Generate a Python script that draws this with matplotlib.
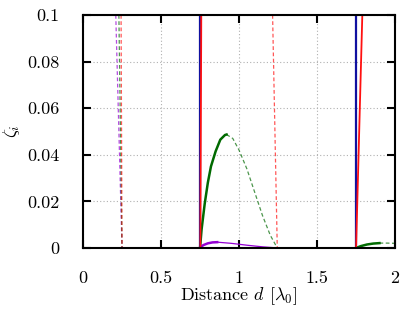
import matplotlib
matplotlib.use("Agg")
import matplotlib.pyplot as plt

plt.rcParams['font.family'] = 'serif'
plt.rcParams['font.serif'] = ['cmr10', 'DejaVu Serif']
plt.rcParams['mathtext.fontset'] = 'cm'
plt.rcParams['axes.formatter.use_mathtext'] = True

# blue: vertical solid lines
blue1_d = [0.748, 0.748]; blue1_z = [0.0, 0.1]
blue2_d = [1.75, 1.75]; blue2_z = [0.0, 0.1]

# red solid, steep
red1_d = [0.752, 0.758]; red1_z = [0.0, 0.1]
red2_d = [1.75, 1.79]; red2_z = [0.0, 0.1]

# red dashed
red3_d = [0.244, 0.25]; red3_z = [0.1, 0.0]
red4_d = [1.215, 1.245]; red4_z = [0.1, 0.0]

# green
green1_d = [0.75, 0.76, 0.78, 0.80, 0.82, 0.85, 0.88, 0.91, 0.92]
green1_z = [0.0, 0.008, 0.019, 0.028, 0.035, 0.0415, 0.0465, 0.0485, 0.0487]
green2_d = [0.92, 0.96, 1.0, 1.05, 1.10, 1.15, 1.20, 1.245]
green2_z = [0.0487, 0.047, 0.042, 0.034, 0.024, 0.014, 0.0055, 0.0]
green3_d = [0.23, 0.25]; green3_z = [0.1, 0.0]
green4_d = [1.75, 1.78, 1.82, 1.86, 1.90]
green4_z = [0.0, 0.0008, 0.0015, 0.0019, 0.0021]
green5_d = [1.90, 1.95, 2.0]
green5_z = [0.0021, 0.0021, 0.002]

# purple
purple1_d = [0.75, 0.77, 0.80, 0.83, 0.86]
purple1_z = [0.0, 0.0012, 0.0020, 0.0024, 0.0025]
purple2_d = [0.86, 0.95, 1.05, 1.15, 1.25]
purple2_z = [0.0025, 0.0020, 0.0012, 0.0005, 0.0]
purple3_d = [0.21, 0.25]; purple3_z = [0.1, 0.0]

c_blue = '#1010a0'
c_red = '#ff1010'
c_green = '#006a00'
c_purple = '#9400d3'
dash = (0, (3, 2))

fig = plt.figure(figsize=(4.15, 3.11), dpi=100)
ax = fig.add_axes([0.2, 0.2026, 0.752, 0.7492])

ax.plot(purple3_d, purple3_z, color=c_purple, lw=0.9, ls=dash, alpha=0.7)
ax.plot(green3_d, green3_z, color=c_green, lw=0.9, ls=dash, alpha=0.7)
ax.plot(red3_d, red3_z, color=c_red, lw=0.9, ls=dash, alpha=0.7)
ax.plot(red4_d, red4_z, color=c_red, lw=0.9, ls=dash, alpha=0.7)

ax.plot(green1_d, green1_z, color=c_green, lw=1.8)
ax.plot(green2_d, green2_z, color=c_green, lw=0.9, ls=dash, alpha=0.7)
ax.plot(green4_d, green4_z, color=c_green, lw=1.8)
ax.plot(green5_d, green5_z, color=c_green, lw=0.9, ls=dash, alpha=0.7)

ax.plot(purple1_d, purple1_z, color=c_purple, lw=1.8)
ax.plot(purple2_d, purple2_z, color=c_purple, lw=0.9)

ax.plot(blue1_d, blue1_z, color=c_blue, lw=1.6)
ax.plot(blue2_d, blue2_z, color=c_blue, lw=1.6)
ax.plot(red1_d, red1_z, color=c_red, lw=1.3)
ax.plot(red2_d, red2_z, color=c_red, lw=1.3)

ax.set_xlim(0, 2)
ax.set_ylim(0, 0.1)
ax.set_xticks([0, 0.5, 1, 1.5, 2])
ax.set_xticklabels(['0', '0.5', '1', '1.5', '2'])
ax.set_yticks([0, 0.02, 0.04, 0.06, 0.08, 0.1])
ax.set_yticklabels(['0', '0.02', '0.04', '0.06', '0.08', '0.1'])
ax.tick_params(direction='in', length=6, width=1.5, top=True, right=True,
               labelsize=13)
ax.tick_params(axis='x', pad=16)
ax.tick_params(axis='y', pad=17)
for s in ax.spines.values():
    s.set_linewidth(1.5)
ax.grid(True, color='#b0b0b0', ls=(0, (1, 2)), lw=0.8)
ax.set_axisbelow(True)

ax.set_xlabel(r'Distance $d$ $[\lambda_0]$', fontsize=13, labelpad=0)
ax.set_ylabel(r'$\zeta_i$', fontsize=13, labelpad=4)

fig.savefig('out.png', dpi=100)
